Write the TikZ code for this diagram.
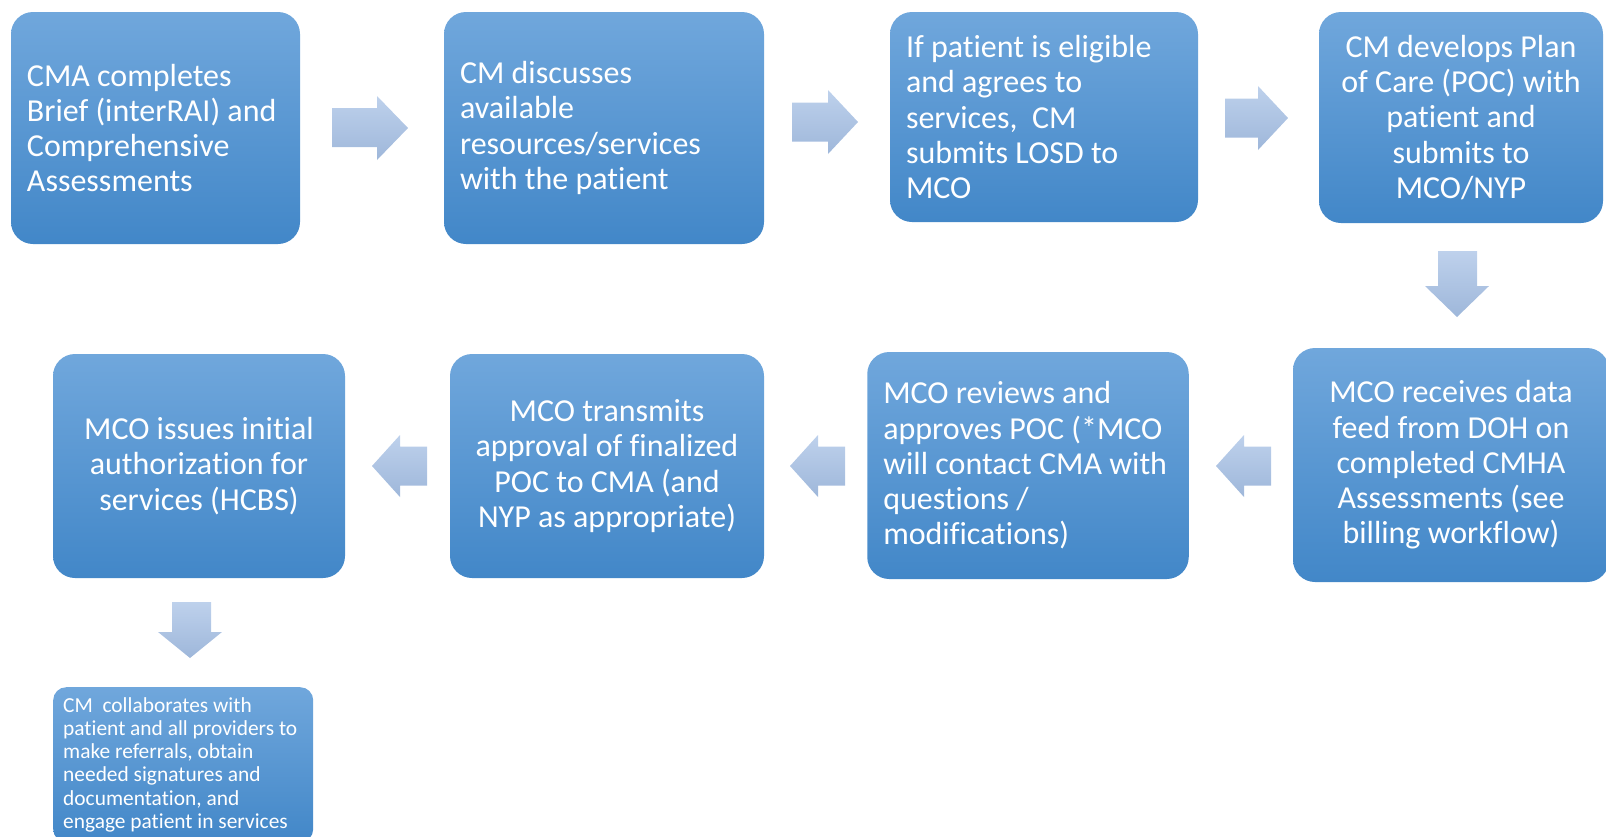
\documentclass[tikz,border=0pt]{standalone}
\usepackage{fontspec}
\setmainfont{Carlito}[Ligatures=CommonOff]
\begin{document}
\begin{tikzpicture}[x=1pt,y=-1pt,
  box/.style={rounded corners=22pt, top color=boxtop, bottom color=boxbot, draw=none,
    text=white, inner xsep=16pt, inner ysep=0pt, font=\fontsize{32}{35.3}\selectfont},
  smallbox/.style={rounded corners=13pt, top color=boxtop, bottom color=boxbot, draw=none,
    text=white, inner xsep=10pt, inner ysep=10pt, font=\fontsize{21.4}{23.3}\selectfont,
    text width=240pt, align=flush left},
  barrow/.style={top color=arrtop, bottom color=arrbot, draw=none}
]
\definecolor{boxtop}{RGB}{112,167,220}
\definecolor{boxbot}{RGB}{66,135,200}
\definecolor{arrtop}{RGB}{190,209,236}
\definecolor{arrbot}{RGB}{158,183,218}
\useasboundingbox (0,0) rectangle (1606,836);
\clip (0,0) rectangle (1606,836);

% row 1
\node[box, minimum width=289pt, minimum height=232pt, text width=257pt, align=flush left] (b1) at (155.5,128)
  {CMA completes\\Brief (interRAI) and\\Comprehensive\\Assessments};
\node[box, minimum width=320pt, minimum height=232pt, text width=288pt, align=flush left] (b2) at (604,128)
  {CM discusses\\available\\resources/services\\with the patient};
\node[box, minimum width=308pt, minimum height=210pt, text width=276pt, align=flush left] (b3) at (1044,117)
  {If patient is eligible\\and agrees to\\services,\ \ CM\\submits LOSD to\\MCO};
\node[box, minimum width=284pt, minimum height=211pt, align=center] (b4) at (1461,117.5)
  {CM develops Plan\\of Care (POC) with\\patient and\\submits to\\MCO/NYP};

% row 2
\node[box, minimum width=316pt, minimum height=234pt, align=center] (b5) at (1451,465)
  {MCO receives data\\feed from DOH on\\completed CMHA\\Assessments (see\\billing workflow)};
\node[box, minimum width=321.5pt, minimum height=227pt, text width=289.5pt, align=flush left] (b6) at (1028,465.5)
  {MCO reviews and\\approves POC (*MCO\\will contact CMA with\\questions /\\modifications)};
\node[box, minimum width=314pt, minimum height=224pt, align=center] (b7) at (607,466)
  {MCO transmits\\approval of finalized\\POC to CMA (and\\NYP as appropriate)};
\node[box, minimum width=292pt, minimum height=224pt, align=center] (b8) at (199,466)
  {MCO issues initial\\authorization for\\services (HCBS)};

% bottom box
\node[smallbox, anchor=north west] (b9) at (53,687)
  {CM\ \ collaborates with\\patient and all providers to\\make referrals, obtain\\needed signatures and\\documentation, and\\engage patient in services};

% block arrows
\shade[barrow] (332,108) -- (377,108) -- (377,96) -- (408,128) -- (377,160) -- (377,147) -- (332,147) -- cycle;
\shade[barrow] (792,102.5) -- (828,102.5) -- (828,90) -- (858,122) -- (828,154) -- (828,141.5) -- (792,141.5) -- cycle;
\shade[barrow] (1225,98.5) -- (1258,98.5) -- (1258,86) -- (1288,118) -- (1258,150) -- (1258,137.5) -- (1225,137.5) -- cycle;
\shade[barrow] (1438,251) -- (1477,251) -- (1477,286) -- (1489,286) -- (1457,317) -- (1425,286) -- (1438,286) -- cycle;
\shade[barrow] (1271,446.5) -- (1244,446.5) -- (1244,435) -- (1216,466) -- (1244,497) -- (1244,485.5) -- (1271,485.5) -- cycle;
\shade[barrow] (845,446.5) -- (818,446.5) -- (818,435) -- (790,466) -- (818,497) -- (818,485.5) -- (845,485.5) -- cycle;
\shade[barrow] (427,446.5) -- (400,446.5) -- (400,435) -- (372,466) -- (400,497) -- (400,485.5) -- (427,485.5) -- cycle;
\shade[barrow] (172,602) -- (211,602) -- (211,632) -- (222,632) -- (190,658) -- (158,632) -- (172,632) -- cycle;
\end{tikzpicture}
\end{document}
